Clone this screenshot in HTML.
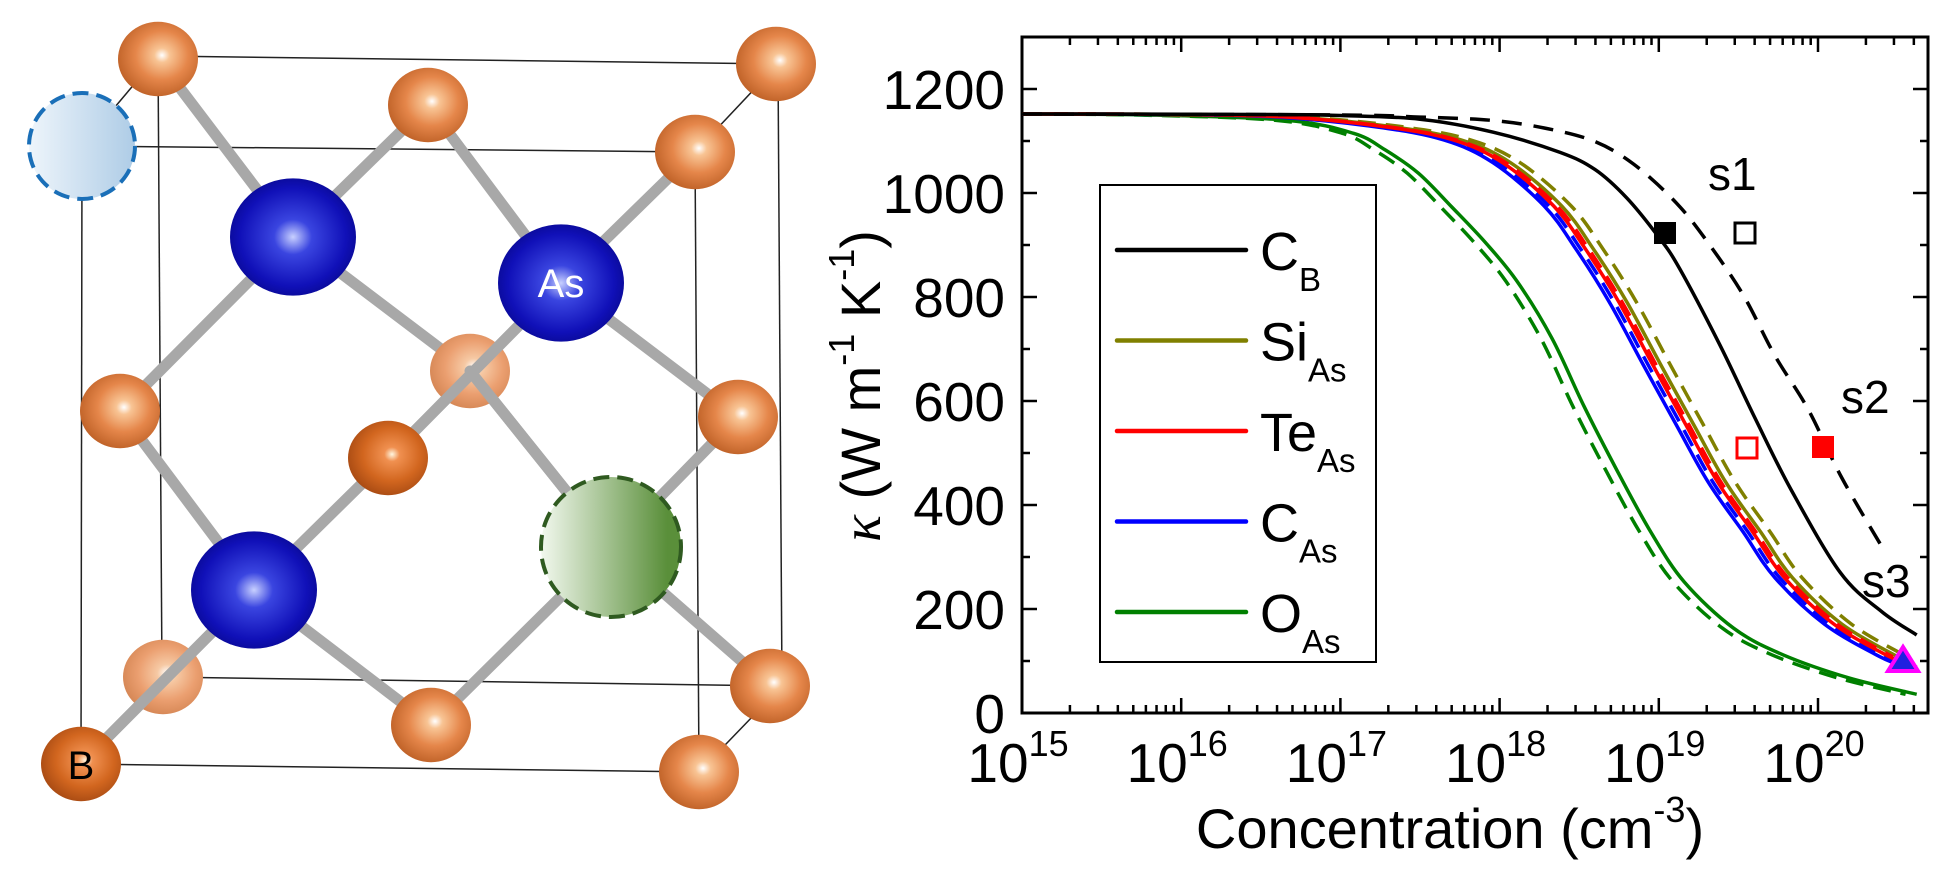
<!DOCTYPE html>
<html><head><meta charset="utf-8">
<style>
html,body{margin:0;padding:0;background:#fff;}
svg{display:block;}
text{font-family:"Liberation Sans",Arial,sans-serif;fill:#000;}
</style></head>
<body>
<svg id="s" width="1949" height="874" viewBox="0 0 1949 874" xmlns="http://www.w3.org/2000/svg">
<defs>
<radialGradient id="cu" cx="0.55" cy="0.45" r="0.6" fx="0.55" fy="0.45">
<stop offset="0" stop-color="#ffffff"/><stop offset="0.16" stop-color="#f8c494"/><stop offset="0.55" stop-color="#e5864a"/><stop offset="1" stop-color="#bb5e24"/></radialGradient>
<radialGradient id="cuL" cx="0.55" cy="0.45" r="0.6" fx="0.55" fy="0.45">
<stop offset="0" stop-color="#ffffff"/><stop offset="0.2" stop-color="#f6c9a4"/><stop offset="0.6" stop-color="#eb9f70"/><stop offset="1" stop-color="#d38452"/></radialGradient>
<radialGradient id="cuD" cx="0.55" cy="0.45" r="0.6" fx="0.55" fy="0.45">
<stop offset="0" stop-color="#fff6e0"/><stop offset="0.16" stop-color="#f09050"/><stop offset="0.6" stop-color="#d2661f"/><stop offset="1" stop-color="#a44812"/></radialGradient>
<radialGradient id="bl" cx="0.5" cy="0.5" r="0.6" fx="0.5" fy="0.5">
<stop offset="0" stop-color="#c8d0ff"/><stop offset="0.25" stop-color="#3a45e0"/><stop offset="0.7" stop-color="#1010b8"/><stop offset="1" stop-color="#060680"/></radialGradient>
<linearGradient id="gbl" x1="0" x2="1"><stop offset="0" stop-color="#eef5fb"/><stop offset="1" stop-color="#aecce6"/></linearGradient>
<linearGradient id="ggr" x1="0" x2="1"><stop offset="0" stop-color="#f2f8ee"/><stop offset="0.9" stop-color="#5a8f3a"/></linearGradient>
</defs>
<g id="crystal"></g>
<g id="plot"></g>
</svg>
<script>
(function(){
var NS="http://www.w3.org/2000/svg";
function el(p,t,a,txt){var e=document.createElementNS(NS,t);for(var k in a)e.setAttribute(k,a[k]);if(txt!==undefined)e.textContent=txt;p.appendChild(e);return e;}
var C=document.getElementById('crystal');
var LN=[[158,56,778,64],[778,64,782,686],[782,686,162,677],[162,677,158,56],
[82,146,695,152],[695,152,699,772],[699,772,81,764],[81,764,82,146],
[82,146,158,56],[695,152,778,64],[81,764,162,677],[699,772,782,686]];
LN.forEach(function(l){el(C,'line',{x1:l[0],y1:l[1],x2:l[2],y2:l[3],stroke:'#222','stroke-width':1.5});});
var A={c1:[158,59],c2:[428,105],c3:[776,64],c4:[695,152],c5:[120,411],c6:[470,371],c7:[388,458],c8:[738,417],c9:[163,677],c10:[431,725],c11:[770,686],B:[81,764],c13:[699,772],b1:[293,237],b2:[561,283],b3:[254,590],g:[611,547]};
var bonds=[['b1','c1'],['b1','c2'],['b1','c5'],['b1','c6'],['b2','c2'],['b2','c4'],['b2','c7'],['b2','c8'],['b3','c5'],['b3','c7'],['b3','B'],['b3','c10'],['g','c6'],['g','c8'],['g','c10'],['g','c11']];
function bond(b){var p=A[b[0]],q=A[b[1]];el(C,'line',{x1:p[0],y1:p[1],x2:q[0],y2:q[1],stroke:'#a8a8a8','stroke-width':11,'stroke-linecap':'round'});}
bonds.forEach(bond);
function atom(k,r,f){var p=A[k];el(C,'ellipse',{cx:p[0],cy:p[1],rx:r,ry:r*0.93,fill:f});}
atom('c9',40,'url(#cuL)');atom('c6',40,'url(#cuL)');
[['b3','B'],['b2','c7'],['g','c6']].forEach(bond);
['c1','c2','c3','c4','c5','c8','c10','c11','c13'].forEach(function(k){atom(k,40,'url(#cu)');});
atom('c7',40,'url(#cuD)');atom('B',40,'url(#cuD)');
['b1','b2','b3'].forEach(function(k){atom(k,63,'url(#bl)');});
el(C,'circle',{cx:82,cy:146,r:53,fill:'url(#gbl)',stroke:'#1a6fb8','stroke-width':4,'stroke-dasharray':'16 8'});
el(C,'circle',{cx:611,cy:547,r:70,fill:'url(#ggr)',stroke:'#2f5a20','stroke-width':4,'stroke-dasharray':'16 8'});
el(C,'text',{x:561,y:297,'text-anchor':'middle','font-size':40,style:'fill:#fff'},'As');
el(C,'text',{x:81,y:779,'text-anchor':'middle','font-size':40},'B');

var P=document.getElementById('plot');
var X0=1022,DEC=159.2,Y0=713,YS=0.52;
function xm(l){return X0+(l-15)*DEC;} function ym(v){return Y0-v*YS;}
var PL=1022,PR=1928,PT=37,PB=713;
function line(x1,y1,x2,y2,w){el(P,'line',{x1:x1,y1:y1,x2:x2,y2:y2,stroke:'#000','stroke-width':w||2.5});}
for(var v=0;v<=1300;v+=100){var y=ym(v);var mj=v%200==0;var len=mj?15:8;line(PL,y,PL+len,y);line(PR,y,PR-len,y);
 if(mj) el(P,'text',{x:1005,y:y+20,'text-anchor':'end','font-size':55},String(v));}
for(var d=15;d<=20;d++){for(var m=1;m<10;m++){var l=d+Math.log10(m);if(l>20.66)break;var x=xm(l);var ln=m==1?15:8;line(x,PB,x,PB-ln);line(x,PT,x,PT+ln);}
 var t=el(P,'text',{x:xm(d)-4,y:782,'text-anchor':'middle','font-size':55});
 el(t,'tspan',{},'10');el(t,'tspan',{dy:-26,'font-size':36},String(d));}
el(P,'rect',{x:PL,y:PT,width:PR-PL,height:PB-PT,fill:'none',stroke:'#000','stroke-width':3});
var xt=el(P,'text',{x:1450,y:848,'text-anchor':'middle','font-size':56});
el(xt,'tspan',{},'Concentration (cm');el(xt,'tspan',{dy:-26,'font-size':36},'-3');el(xt,'tspan',{dy:26},')');
var yt=el(P,'text',{x:0,y:0,'text-anchor':'middle','font-size':56,transform:'translate(880,386) rotate(-90)'});
el(yt,'tspan',{style:'font-family:"Liberation Serif",serif;font-style:italic'},'κ');
el(yt,'tspan',{},' (W m');el(yt,'tspan',{dy:-26,'font-size':36},'-1');el(yt,'tspan',{dy:26},' K');el(yt,'tspan',{dy:-26,'font-size':36},'-1');el(yt,'tspan',{dy:26},')');
var red=[[15,1152],[16,1151],[16.67,1146],[17.29,1127],[17.71,1102],[18.02,1058],[18.34,975],[18.54,892],[18.75,790],[18.96,671],[19.17,554],[19.37,444],[19.59,348],[19.79,260],[20.1,171],[20.45,108],[20.62,88]];
var blk=[[15,1152],[16.5,1151],[17,1149],[17.5,1142],[17.96,1117],[18.38,1078],[18.6,1045],[18.8,990],[19.0,915],[19.13,855],[19.38,710],[19.6,570],[19.83,430],[20.14,270],[20.4,195],[20.62,150]];
var bld=[[15,1152],[17,1150],[17.5,1146],[17.94,1140],[18.28,1125],[18.59,1100],[18.84,1056],[19.11,981],[19.31,904],[19.53,804],[19.73,687],[19.94,583],[20.15,452],[20.42,310]];
var grn=[[15,1152],[15.8,1150],[16.66,1140],[17.08,1115],[17.28,1083],[17.49,1038],[17.7,973],[17.91,905],[18.11,830],[18.33,720],[18.53,590],[18.74,465],[18.95,348],[19.16,252],[19.47,163],[19.78,112],[20.2,67],[20.62,36]];
function sh(dd,s){return dd.map(function(p){return [p[0]==15?15:p[0]+s,p[1]];}).filter(function(p){return p[0]<=20.63;});}
function path(dd){var pts=dd.map(function(p){return [xm(p[0]),ym(p[1])];});var s='M'+pts[0][0].toFixed(1)+' '+pts[0][1].toFixed(1);
 for(var i=0;i<pts.length-1;i++){var p0=pts[Math.max(0,i-1)],p1=pts[i],p2=pts[i+1],p3=pts[Math.min(pts.length-1,i+2)];
 var c1=[p1[0]+(p2[0]-p0[0])/6,p1[1]+(p2[1]-p0[1])/6],c2=[p2[0]-(p3[0]-p1[0])/6,p2[1]-(p3[1]-p1[1])/6];
 s+=' C'+c1[0].toFixed(1)+' '+c1[1].toFixed(1)+' '+c2[0].toFixed(1)+' '+c2[1].toFixed(1)+' '+p2[0].toFixed(1)+' '+p2[1].toFixed(1);}return s;}
function curve(dd,col,dash){el(P,'path',{d:path(dd),fill:'none',stroke:col,'stroke-width':3.5,'stroke-dasharray':dash||'none'});}
var OL='#808000',RD='#ff0000',BL='#0000ff',GR='#008000';
curve(grn,GR);curve(sh(grn,-0.07),GR,'18 10');
curve(sh(red,-0.06),BL);curve(sh(red,-0.03),BL,'18 10');
curve(sh(red,0.05),OL);curve(sh(red,0.11),OL,'18 10');
curve(red,RD);curve(sh(red,0.02),RD,'18 10');
curve(blk,'#000');curve(bld,'#000','20 12');
el(P,'rect',{x:1654,y:222,width:22,height:22,fill:'#000'});
el(P,'rect',{x:1735,y:223,width:20,height:20,fill:'#fff',stroke:'#000','stroke-width':3});
el(P,'rect',{x:1737,y:438,width:20,height:20,fill:'none',stroke:'#f00','stroke-width':3});
el(P,'rect',{x:1812,y:436,width:22,height:22,fill:'#f00'});
el(P,'polygon',{points:'1903,647 1888,671 1918,671',fill:'#2020e0',stroke:'#ff00ff','stroke-width':4});
el(P,'text',{x:1708,y:190,'font-size':46},'s1');
el(P,'text',{x:1841,y:413,'font-size':46},'s2');
el(P,'text',{x:1862,y:597,'font-size':46},'s3');
el(P,'rect',{x:1100,y:185,width:276,height:477,fill:'#fff',stroke:'#000','stroke-width':2});
var leg=[['C','B','#000'],['Si','As',OL],['Te','As',RD],['C','As',BL],['O','As',GR]];
leg.forEach(function(e,i){var y=250+i*90.5;el(P,'line',{x1:1117,y1:y,x2:1246,y2:y,stroke:e[2],'stroke-width':4.5,'stroke-linecap':'round'});
 var t=el(P,'text',{x:1260,y:y+20,'font-size':54});el(t,'tspan',{},e[0]);el(t,'tspan',{dy:21,'font-size':33},e[1]);});
})();
</script>
</body></html>
